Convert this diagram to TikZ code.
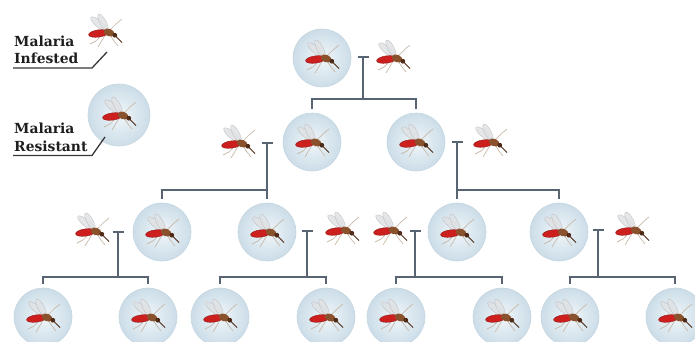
\documentclass[tikz,border=0pt]{standalone}
\usepackage{fontspec}
\newfontfamily\labelfont{DejaVu Serif}
\definecolor{linkgray}{RGB}{88,100,114}
\definecolor{bubblein}{RGB}{240,246,249}
\definecolor{bubbleout}{RGB}{204,221,232}
\definecolor{bubbleedge}{RGB}{196,214,226}
\definecolor{wingfill}{RGB}{224,226,228}
\definecolor{wingedge}{RGB}{185,188,192}
\definecolor{abdomenred}{RGB}{205,32,30}
\definecolor{abdomendark}{RGB}{140,18,18}
\definecolor{thoraxbrown}{RGB}{138,82,44}
\definecolor{headbrown}{RGB}{80,44,24}
\definecolor{legtan}{RGB}{200,186,170}
\definecolor{labelink}{RGB}{30,30,30}
\definecolor{pointergray}{RGB}{55,55,55}
\begin{document}
\begin{tikzpicture}[x=1pt,y=-1pt,
  link/.style={draw=linkgray, line width=2.4pt},
  bubble/.style={circle, minimum size=58pt, inner sep=0pt,
    inner color=bubblein, outer color=bubbleout, draw=bubbleedge, line width=0.6pt},
  bigbubble/.style={bubble, minimum size=62pt},
  legendtxt/.style={anchor=base west, inner sep=0pt,
    font=\labelfont\bfseries\fontsize{13.9}{16}\selectfont, text=labelink},
  pointer/.style={draw=pointergray, line width=1.3pt},
  mosquito/.pic={
    % wings
    \filldraw[fill=wingfill, draw=wingedge, line width=0.3pt, fill opacity=.85,
      rotate around={140:(-6,-8)}] (-6,-8) ellipse [x radius=10.5pt, y radius=3.4pt];
    \filldraw[fill=wingfill, draw=wingedge, line width=0.3pt, fill opacity=.85,
      rotate around={118:(-2,-9.5)}] (-2,-9.5) ellipse [x radius=9.5pt, y radius=3.2pt];
    % legs
    \draw[legtan, line width=0.7pt, line join=round]
      (5,-2) -- (11,-8) -- (17,-13)
      (-3,3) -- (-9,9) -- (-15,12)
      (0,3.5) -- (-4,10) -- (-7,15)
      (5,3) -- (9,9) -- (13,14);
    % abdomen
    \filldraw[fill=abdomenred, draw=abdomendark, line width=0.4pt,
      rotate around={8:(-6.5,1.5)}] (-6.5,1.5) ellipse [x radius=10pt, y radius=3.6pt];
    % thorax and head
    \fill[thoraxbrown, rotate around={-20:(4,0.5)}] (4,0.5) ellipse [x radius=5.5pt, y radius=3.8pt];
    \fill[headbrown] (9.8,3.2) circle [radius=2.4pt];
    % proboscis
    \draw[headbrown, line width=0.8pt] (10.5,4) -- (17,10.5);
  }
]
\useasboundingbox (0,0) rectangle (695,342);
\clip (0,0) rectangle (695,342);

% legend
\coordinate (legM) at (105,32);
\pic at (legM) {mosquito};
\node[legendtxt] (infA) at (14,46.7) {Malaria};
\node[legendtxt] (infB) at (14,64) {Infested};
\coordinate (infStart) at (13,68);
\coordinate (infBend) at (92,68);
\coordinate (infTip) at (107,52);
\draw[pointer] (infStart) -- (infBend) -- (infTip);

\node[bigbubble] (legB) at (119,115) {};
\pic at (legB) {mosquito};
\node[legendtxt] (resA) at (14,133) {Malaria};
\node[legendtxt] (resB) at (14,151) {Resistant};
\coordinate (resStart) at (13,155.5);
\coordinate (resBend) at (92,155.5);
\coordinate (resTip) at (105,137);
\draw[pointer] (resStart) -- (resBend) -- (resTip);

% generation 0
\node[bubble] (b0) at (322,58) {};
\coordinate (m0) at (393,58);
% generation 1
\node[bubble] (b1) at (312,142) {};
\node[bubble] (b2) at (416,142) {};
\coordinate (m1) at (238,143);
\coordinate (m2) at (490,142);
% generation 2
\node[bubble] (b3) at (162,232) {};
\node[bubble] (b4) at (267,232) {};
\node[bubble] (b5) at (457,232) {};
\node[bubble] (b6) at (559,232) {};
\coordinate (m3) at (92,231);
\coordinate (m4) at (342,230);
\coordinate (m5) at (390,230);
\coordinate (m6) at (632,230);
% generation 3
\node[bubble] (b7) at (43,317) {};
\node[bubble] (b8) at (148,317) {};
\node[bubble] (b9) at (220,317) {};
\node[bubble] (b10) at (326,317) {};
\node[bubble] (b11) at (396,317) {};
\node[bubble] (b12) at (502,317) {};
\node[bubble] (b13) at (570,317) {};
\node[bubble] (b14) at (675,317) {};

\foreach \n in {b0,b1,b2,b3,b4,b5,b6,b7,b8,b9,b10,b11,b12,b13,b14,m0,m1,m2,m3,m4,m5,m6}
  \pic at (\n) {mosquito};

% crosses: T top, junction on the sibling bar
\coordinate (t0) at (363,57);  \coordinate (j0) at (363,99);
\coordinate (t1) at (267,143); \coordinate (j1) at (267,190);
\coordinate (t2) at (457,142); \coordinate (j2) at (457,190);
\coordinate (t3) at (118,232); \coordinate (j3) at (118,277);
\coordinate (t4) at (307,231); \coordinate (j4) at (307,277);
\coordinate (t5) at (415,231); \coordinate (j5) at (415,277);
\coordinate (t6) at (598,230); \coordinate (j6) at (598,277);

\foreach \t/\j/\c/\d in {t0/j0/b1/b2, t1/j1/b3/b4, t2/j2/b5/b6,
    t3/j3/b7/b8, t4/j4/b9/b10, t5/j5/b11/b12, t6/j6/b13/b14} {
  \draw[link] ([xshift=-5.5pt]\t) -- ([xshift=5.5pt]\t);
  \draw[link] (\t) -- (\j);
  \draw[link] ([yshift=4pt]\c.north) |- (\j) -| ([yshift=4pt]\d.north);
}
\end{tikzpicture}
\end{document}
